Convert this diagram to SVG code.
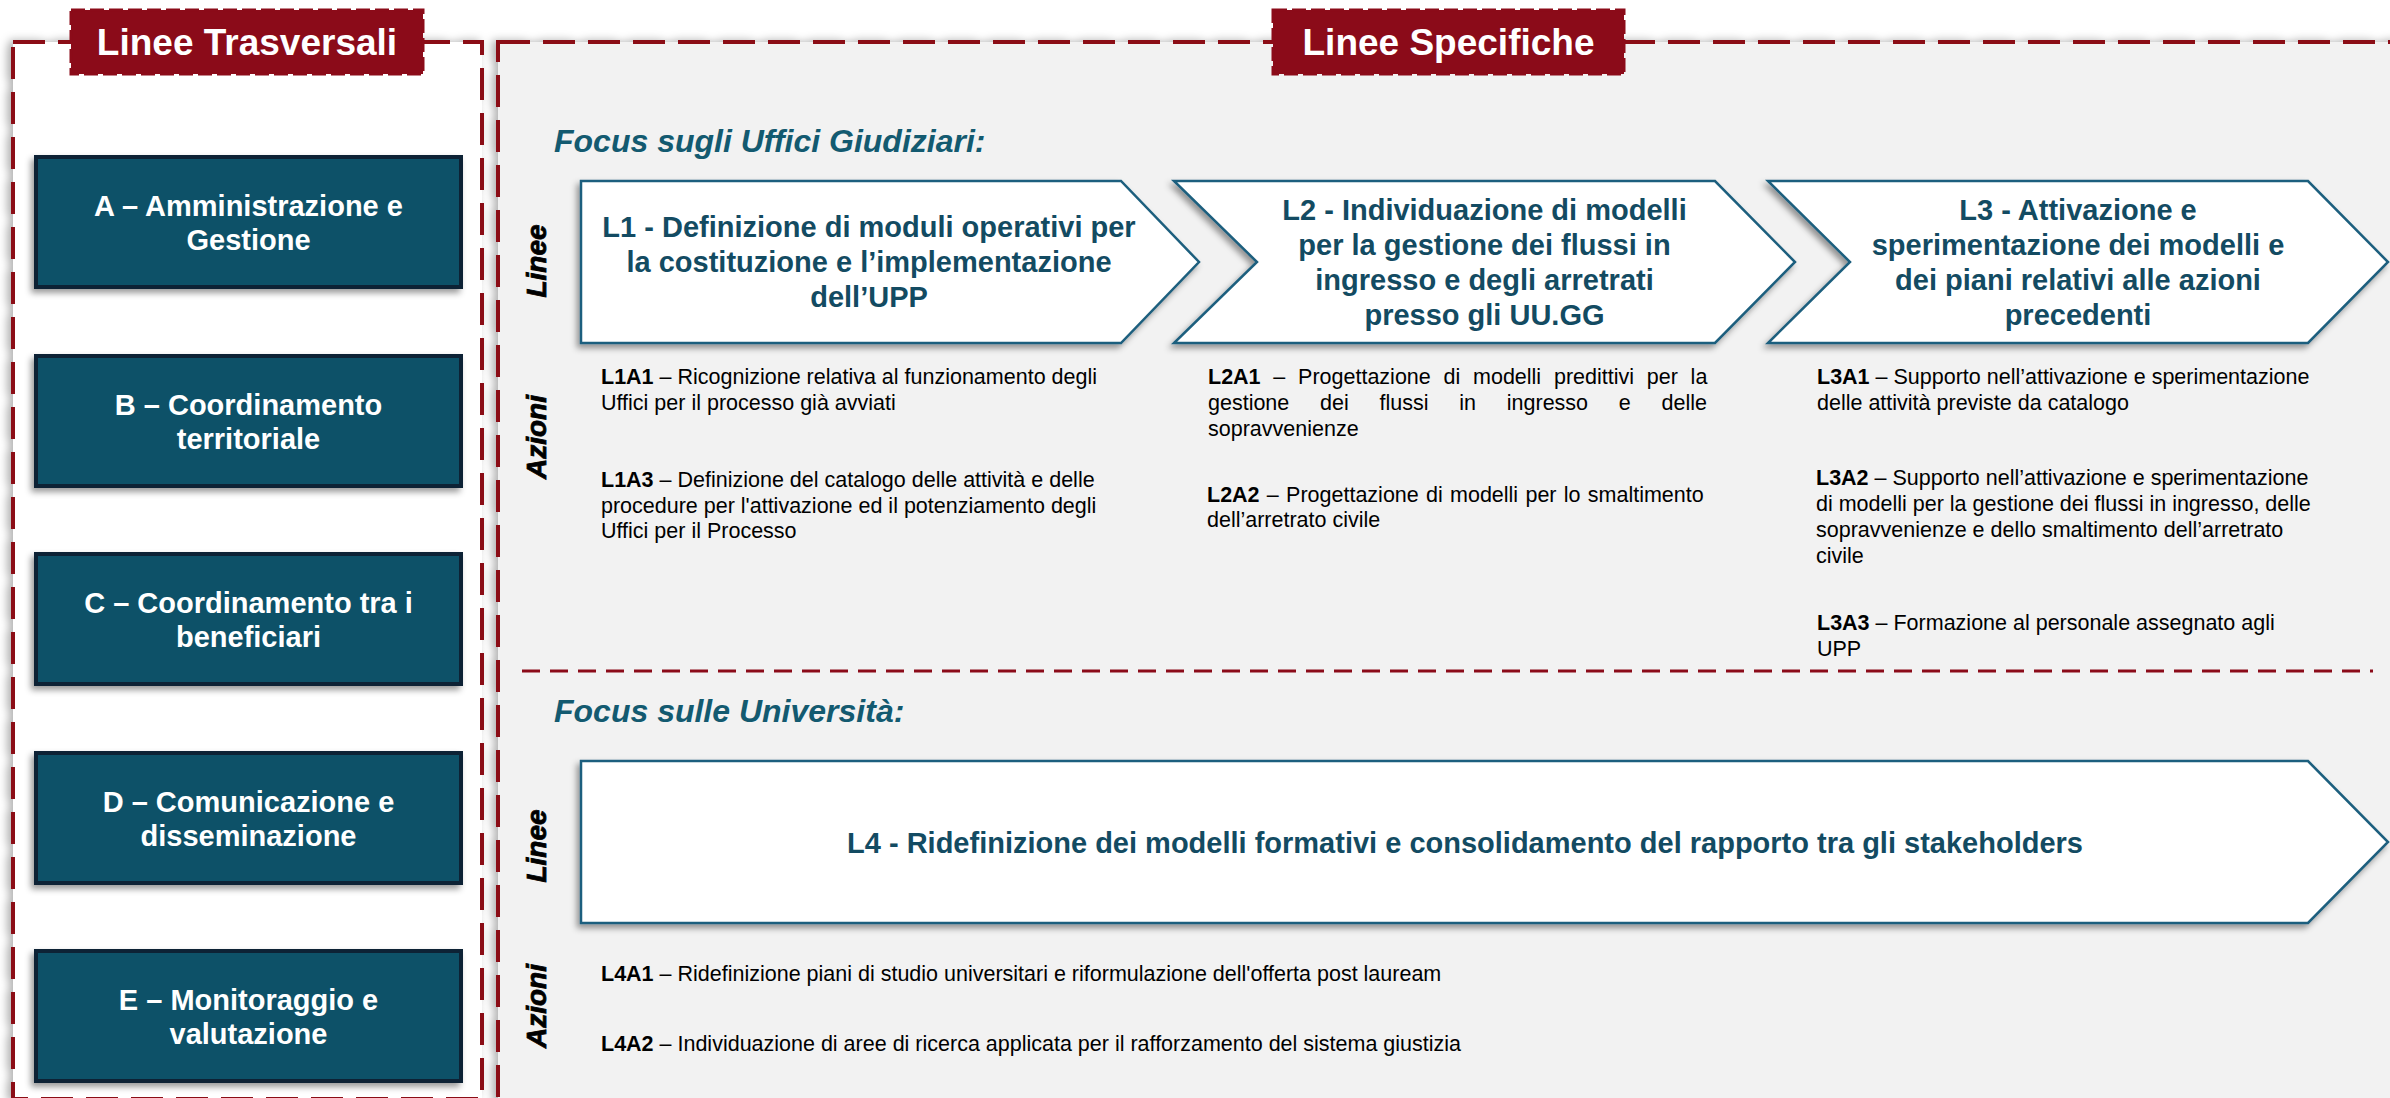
<svg xmlns="http://www.w3.org/2000/svg" width="2390" height="1098" viewBox="0 0 2390 1098">
<defs>
<filter id="sh" x="-10%" y="-10%" width="120%" height="130%"><feDropShadow dx="-3" dy="4" stdDeviation="3" flood-color="#000" flood-opacity="0.4"/></filter>
<filter id="psh" x="-5%" y="-5%" width="110%" height="110%"><feDropShadow dx="-4" dy="0" stdDeviation="4" flood-color="#000" flood-opacity="0.3"/></filter>
</defs>
<style>
text{font-family:"Liberation Sans",Arial,sans-serif}
.panel{stroke:#8b0b19;stroke-width:4;stroke-dasharray:32 13}
.title rect{fill:#8b0b19;stroke:#8b0b19;stroke-width:3;stroke-dasharray:14 5}
.title text{fill:#fff;font-size:37px;font-weight:bold;text-anchor:middle}
.node rect{fill:#0b5168;stroke:#0b2434;stroke-width:4}
.node text{fill:#fff;font-size:29px;font-weight:bold;text-anchor:middle}
.chev path{fill:#fff;stroke:#1e5f7e;stroke-width:2.5}
.chev text{fill:#134b62;font-size:29px;font-weight:bold;text-anchor:middle}
.focus{fill:#135a70;font-size:32px;font-weight:bold;font-style:italic}
.side{fill:#000;stroke:#000;stroke-width:0.8;font-size:28px;font-weight:bold;font-style:italic;text-anchor:middle}
.act{fill:#000;font-size:21.5px}
.b{font-weight:bold}
.sep{stroke:#8b0b19;stroke-width:3;stroke-dasharray:18 10;fill:none}
</style>
<rect x="0" y="0" width="2390" height="1098" fill="#fff"/>

<g id="panel-left">
<rect x="13" y="42" width="469" height="1057" fill="#fff" class="panel" filter="url(#psh)"/>
</g>
<g id="panel-right">
<rect x="498" y="42" width="1910" height="1070" fill="#f2f2f2" class="panel" filter="url(#psh)"/>
</g>

<g id="title-trasversali" class="title">
<rect x="71" y="10" width="352" height="64"/>
<text x="247" y="55">Linee Trasversali</text>
</g>
<g id="title-specifiche" class="title">
<rect x="1273" y="10" width="351" height="64"/>
<text x="1448.5" y="55">Linee Specifiche</text>
</g>

<g id="node-A" class="node">
<rect x="36" y="157" width="425" height="130" filter="url(#sh)"/>
<text x="248.5" y="216">A – Amministrazione e</text>
<text x="248.5" y="250">Gestione</text>
</g>
<g id="node-B" class="node">
<rect x="36" y="356" width="425" height="130" filter="url(#sh)"/>
<text x="248.5" y="415">B – Coordinamento</text>
<text x="248.5" y="449">territoriale</text>
</g>
<g id="node-C" class="node">
<rect x="36" y="554" width="425" height="130" filter="url(#sh)"/>
<text x="248.5" y="613">C – Coordinamento tra i</text>
<text x="248.5" y="647">beneficiari</text>
</g>
<g id="node-D" class="node">
<rect x="36" y="753" width="425" height="130" filter="url(#sh)"/>
<text x="248.5" y="812">D – Comunicazione e</text>
<text x="248.5" y="846">disseminazione</text>
</g>
<g id="node-E" class="node">
<rect x="36" y="951" width="425" height="130" filter="url(#sh)"/>
<text x="248.5" y="1010">E – Monitoraggio e</text>
<text x="248.5" y="1044">valutazione</text>
</g>

<text id="focus-uffici" class="focus" x="554" y="152">Focus sugli Uffici Giudiziari:</text>
<text id="focus-universita" class="focus" x="554" y="722">Focus sulle Università:</text>

<g id="side-labels">
<text class="side" transform="translate(546 261) rotate(-90)">Linee</text>
<text class="side" transform="translate(546 437) rotate(-90)">Azioni</text>
<text class="side" transform="translate(546 846) rotate(-90)">Linee</text>
<text class="side" transform="translate(546 1006) rotate(-90)">Azioni</text>
</g>

<g id="L1" class="chev">
<path d="M581,181 H1121 L1199,262 L1121,343 H581 Z" filter="url(#sh)"/>
<text x="869" y="237">L1 - Definizione di moduli operativi per</text>
<text x="869" y="272">la costituzione e l’implementazione</text>
<text x="869" y="307">dell’UPP</text>
</g>
<g id="L2" class="chev">
<path d="M1174,181 H1715 L1795,262 L1715,343 H1174 L1257,262 Z" filter="url(#sh)"/>
<text x="1484.5" y="220">L2 - Individuazione di modelli</text>
<text x="1484.5" y="255">per la gestione dei flussi in</text>
<text x="1484.5" y="290">ingresso e degli arretrati</text>
<text x="1484.5" y="325">presso gli UU.GG</text>
</g>
<g id="L3" class="chev">
<path d="M1768,181 H2308 L2388,262 L2308,343 H1768 L1850,262 Z" filter="url(#sh)"/>
<text x="2078" y="220">L3 - Attivazione e</text>
<text x="2078" y="255">sperimentazione dei modelli e</text>
<text x="2078" y="290">dei piani relativi alle azioni</text>
<text x="2078" y="325">precedenti</text>
</g>
<g id="L4" class="chev">
<path d="M581,761 H2308 L2388,842 L2308,923 H581 Z" filter="url(#sh)"/>
<text x="1465" y="853">L4 - Ridefinizione dei modelli formativi e consolidamento del rapporto tra gli stakeholders</text>
</g>

<g id="actions-L1" class="act">
<text x="601" y="384"><tspan class="b">L1A1</tspan> – Ricognizione relativa al funzionamento degli</text>
<text x="601" y="410">Uffici per il processo già avviati</text>
<text x="601" y="487"><tspan class="b">L1A3</tspan> – Definizione del catalogo delle attività e delle</text>
<text x="601" y="513">procedure per l'attivazione ed il potenziamento degli</text>
<text x="601" y="538">Uffici per il Processo</text>
</g>
<g id="actions-L2" class="act">
<text x="1208" y="384" word-spacing="6.8"><tspan class="b">L2A1</tspan> – Progettazione di modelli predittivi per la</text>
<text x="1208" y="410" word-spacing="24.8">gestione dei flussi in ingresso e delle</text>
<text x="1208" y="436">sopravvenienze</text>
<text x="1207" y="502" word-spacing="1.3"><tspan class="b">L2A2</tspan> – Progettazione di modelli per lo smaltimento</text>
<text x="1207" y="527">dell’arretrato civile</text>
</g>
<g id="actions-L3" class="act">
<text x="1817" y="384"><tspan class="b">L3A1</tspan> – Supporto nell’attivazione e sperimentazione</text>
<text x="1817" y="410">delle attività previste da catalogo</text>
<text x="1816" y="485"><tspan class="b">L3A2</tspan> – Supporto nell’attivazione e sperimentazione</text>
<text x="1816" y="511">di modelli per la gestione dei flussi in ingresso, delle</text>
<text x="1816" y="537">sopravvenienze e dello smaltimento dell’arretrato</text>
<text x="1816" y="563">civile</text>
<text x="1817" y="630"><tspan class="b">L3A3</tspan> – Formazione al personale assegnato agli</text>
<text x="1817" y="656">UPP</text>
</g>
<g id="actions-L4" class="act">
<text x="601" y="981"><tspan class="b">L4A1</tspan> – Ridefinizione piani di studio universitari e riformulazione dell'offerta post lauream</text>
<text x="601" y="1051"><tspan class="b">L4A2</tspan> – Individuazione di aree di ricerca applicata per il rafforzamento del sistema giustizia</text>
</g>

<g id="connectors">
<line class="sep" x1="522" y1="671" x2="2373" y2="671"/>
</g>
</svg>
